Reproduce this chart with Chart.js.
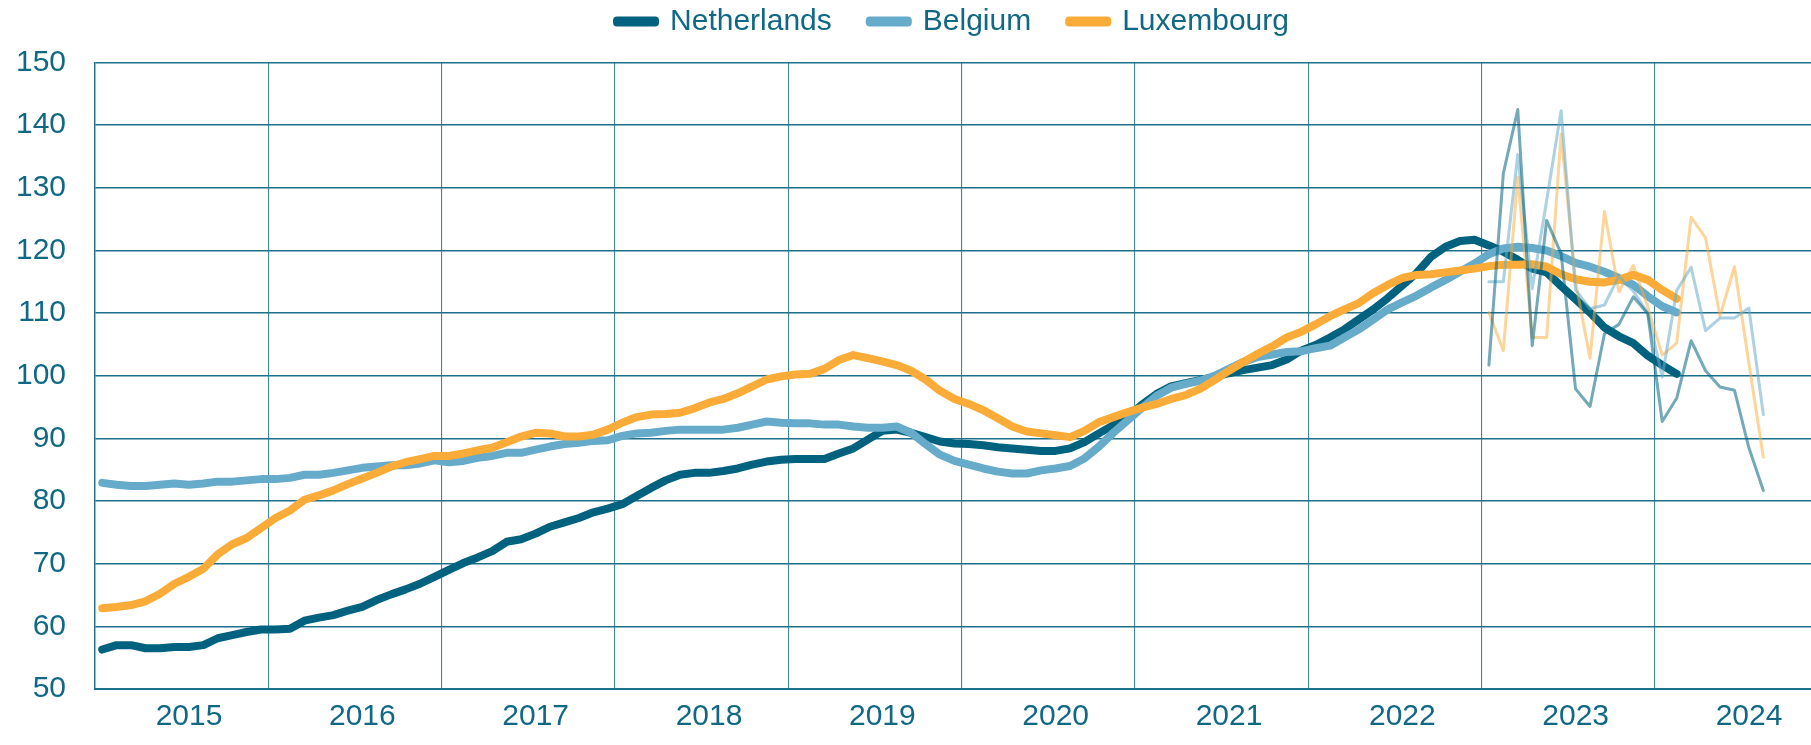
<!DOCTYPE html>
<html>
<head>
<meta charset="utf-8">
<script src="https://cdn.jsdelivr.net/npm/chart.js@4.4.1/dist/chart.umd.min.js"></script>
<style>
  body { margin: 0; background: #fff; }
  #wrap { width: 1811px; height: 745px; }
</style>
</head>
<body>
<div id="wrap"><canvas id="priceChart"></canvas></div>
<script>
// x axis: one step per month, month 0 = January 2015
const yearLabels = ["2015", "2016", "2017", "2018", "2019", "2020", "2021", "2022", "2023", "2024"];
const countries = ["Netherlands", "Belgium", "Luxembourg"];

// smoothed index, monthly from Jan 2015
const netherlands = [
  56.3, 57.0, 57.0, 56.5, 56.5, 56.7, 56.7, 57.0, 58.1, 58.6, 59.1, 59.5,
  59.5, 59.6, 60.9, 61.4, 61.8, 62.5, 63.1, 64.2, 65.1, 65.9, 66.8, 67.9,
  69.0, 70.1, 71.0, 72.0, 73.5, 73.9, 74.8, 75.9, 76.6, 77.3, 78.2, 78.8,
  79.5, 80.8, 82.1, 83.3, 84.2, 84.5, 84.5, 84.8, 85.2, 85.8, 86.3, 86.6,
  86.7, 86.7, 86.7, 87.6, 88.4, 89.8, 91.2, 91.4, 90.9, 90.2, 89.5, 89.2,
  89.1, 88.9, 88.6, 88.4, 88.2, 88.0, 88.0, 88.4, 89.4, 90.8, 92.1, 93.6,
  95.4, 97.1, 98.3, 98.8, 99.3, 99.8, 100.4, 100.9, 101.3, 101.7, 102.6, 104.0,
  104.9, 106.1, 107.4, 109.0, 110.6, 112.4, 114.4, 116.4, 119.0, 120.6, 121.5, 121.7,
  120.8, 119.8, 118.5, 117.1, 116.5, 114.3, 112.2, 110.1, 107.7, 106.3, 105.2, 103.2,
  101.7, 100.3
];
const belgium = [
  82.9, 82.6, 82.4, 82.4, 82.6, 82.8, 82.6, 82.8, 83.1, 83.1, 83.3, 83.5,
  83.5, 83.7, 84.2, 84.2, 84.5, 84.9, 85.3, 85.5, 85.7, 85.7, 86.0, 86.5,
  86.2, 86.4, 86.9, 87.2, 87.7, 87.7, 88.2, 88.7, 89.1, 89.3, 89.6, 89.7,
  90.4, 90.8, 90.9, 91.2, 91.4, 91.4, 91.4, 91.4, 91.7, 92.2, 92.7, 92.5,
  92.4, 92.4, 92.2, 92.2, 91.9, 91.7, 91.7, 91.9, 90.9, 89.1, 87.4, 86.4,
  85.8, 85.2, 84.7, 84.4, 84.4, 84.9, 85.2, 85.6, 86.8, 88.7, 90.9, 92.9,
  94.9, 96.8, 98.1, 98.7, 99.2, 100.0, 101.1, 102.2, 103.0, 103.4, 103.8, 103.9,
  104.4, 104.8, 106.1, 107.4, 109.0, 110.6, 111.7, 112.8, 114.1, 115.3, 116.6, 117.9,
  119.4, 120.3, 120.6, 120.4, 120.0, 119.1, 118.0, 117.4, 116.6, 115.6, 114.5, 112.7,
  111.1, 110.1
];
const luxembourg = [
  62.9, 63.1, 63.4, 64.0, 65.2, 66.8, 67.9, 69.2, 71.5, 73.1, 74.1, 75.7,
  77.3, 78.5, 80.2, 80.9, 81.7, 82.7, 83.6, 84.5, 85.5, 86.2, 86.7, 87.2,
  87.2, 87.6, 88.1, 88.5, 89.4, 90.3, 90.9, 90.8, 90.3, 90.3, 90.6, 91.4,
  92.5, 93.4, 93.8, 93.9, 94.1, 94.8, 95.7, 96.3, 97.2, 98.3, 99.4, 99.9,
  100.2, 100.3, 101.1, 102.5, 103.3, 102.8, 102.3, 101.7, 100.8, 99.4, 97.6, 96.3,
  95.5, 94.5, 93.2, 91.9, 91.1, 90.8, 90.5, 90.2, 91.2, 92.6, 93.4, 94.2,
  94.9, 95.5, 96.3, 96.9, 97.9, 99.3, 100.8, 102.2, 103.5, 104.7, 106.1, 107.0,
  108.2, 109.5, 110.6, 111.6, 113.2, 114.5, 115.6, 116.1, 116.2, 116.5, 116.8, 117.1,
  117.5, 117.7, 117.7, 117.8, 117.4, 116.2, 115.4, 115.0, 114.9, 115.3, 116.1, 115.3,
  113.7, 112.3
];

// raw monthly values, from Jan 2023 (month 96)
const rawStart = 96;
const netherlandsRaw = [101.7, 132.3, 142.5, 104.8, 124.8, 119.5, 97.9, 95.1, 106.7, 108.2, 112.6, 109.9, 92.7, 96.4, 105.6, 100.8, 98.2, 97.7, 88.5, 81.7];
const belgiumRaw = [115.0, 115.0, 135.3, 113.9, 128.0, 142.3, 113.7, 110.7, 111.3, 115.9, 113.5, 110.0, 99.8, 113.6, 117.3, 107.2, 109.2, 109.2, 110.8, 93.8];
const luxembourgRaw = [110.1, 104.0, 131.7, 106.1, 106.1, 138.6, 115.0, 102.8, 126.2, 113.4, 117.6, 111.0, 103.3, 105.2, 125.3, 122.0, 109.5, 117.4, 102.0, 87.0];

const TEXT = "#106884";
const FONT = "'Liberation Sans', Arial, sans-serif";

// points sit in the middle of their month
function toPoints(values, start) {
  return values.map((v, i) => ({ x: start + i + 0.5, y: v }));
}

function thick(label, values, color) {
  return {
    label: label,
    data: toPoints(values, 0),
    borderColor: color,
    backgroundColor: color,
    borderWidth: 8,
  };
}

function thin(label, values, color) {
  return {
    label: label,
    data: toPoints(values, rawStart),
    borderColor: color,
    backgroundColor: color,
    borderWidth: 3,
  };
}

// extra room between legend and plot
const legendGap = {
  id: "legendGap",
  beforeInit(chart) {
    const fit = chart.legend.fit;
    chart.legend.fit = function () {
      fit.bind(chart.legend)();
      this.height += 16;
    };
  }
};

const ctx = document.getElementById("priceChart").getContext("2d");

new Chart(ctx, {
  type: "line",
  data: {
    datasets: [
      thin(countries[0] + " raw", netherlandsRaw, "rgba(0, 98, 126, 0.55)"),
      thin(countries[1] + " raw", belgiumRaw, "rgba(103, 171, 203, 0.55)"),
      thin(countries[2] + " raw", luxembourgRaw, "rgba(251, 171, 55, 0.5)"),
      thick(countries[2], luxembourg, "#fbab37"),
      thick(countries[1], belgium, "#67abcb"),
      thick(countries[0], netherlands, "#00627e"),
    ],
  },
  options: {
    responsive: true,
    maintainAspectRatio: false,
    animation: false,
    layout: { padding: { top: -31.5, left: 0, right: 0, bottom: 0 } },
    elements: {
      point: { radius: 0, hoverRadius: 0 },
      line: { tension: 0, borderCapStyle: "round", borderJoinStyle: "round" },
    },
    plugins: {
      tooltip: { enabled: false },
      legend: {
        position: "top",
        fullSize: false,
        labels: {
          font: { family: FONT, size: 30 },
          color: TEXT,
          boxWidth: 38,
          boxHeight: 2,
          padding: 38,
          filter: (item) => item.datasetIndex >= 3,
          sort: (a, b) => b.datasetIndex - a.datasetIndex,
        },
      },
    },
    scales: {
      x: {
        type: "linear",
        min: 0,
        max: 118.8,
        afterBuildTicks: (scale) => {
          scale.ticks = yearLabels.map((_, i) => ({ value: i * 12 }));
        },
        ticks: {
          callback: (value, index) => yearLabels[index],
          labelOffset: 94,
          padding: 10,
          autoSkip: false,
          maxRotation: 0,
          font: { family: FONT, size: 30 },
          color: TEXT,
        },
        grid: { color: "#3f86a1", lineWidth: 1.1, drawTicks: false },
        border: { color: "#1d6f8b", width: 2 },
      },
      y: {
        min: 50,
        max: 150,
        afterFit: (scale) => { scale.width = 95; },
        ticks: {
          stepSize: 10,
          padding: 29,
          font: { family: FONT, size: 30 },
          color: TEXT,
        },
        grid: { color: "#1d6f8b", lineWidth: 1.4, drawTicks: false },
        border: { color: "#1d6f8b", width: 1.4 },
      },
    },
  },
  plugins: [legendGap],
});
</script>
</body>
</html>
